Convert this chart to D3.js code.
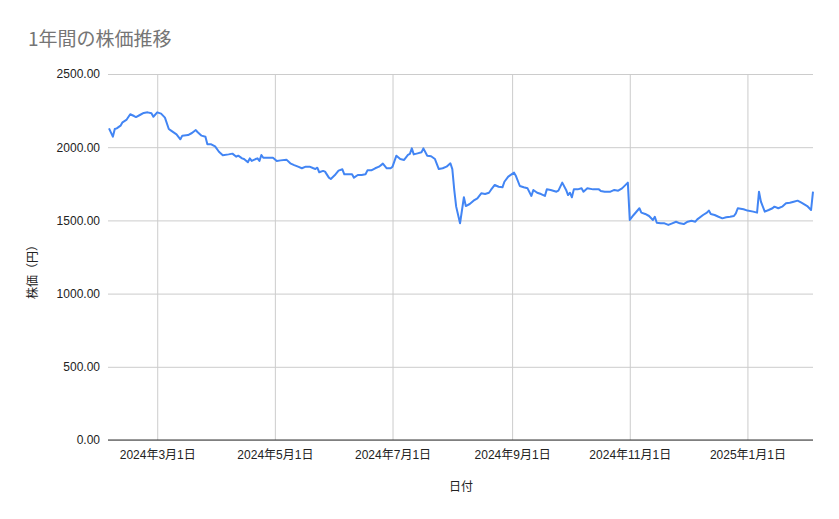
<!DOCTYPE html>
<html>
<head>
<meta charset="utf-8">
<script src="https://cdn.jsdelivr.net/npm/d3@7"></script>
<style>
  body { margin: 0; background: #fff; }
  svg { display: block; }
</style>
</head>
<body>
<div id="chart"></div>
<script>
'use strict';

// 日付と株価（チャートから読み取り）
const dates = [
  "2024-02-05","2024-02-07","2024-02-08","2024-02-09","2024-02-11","2024-02-12","2024-02-14","2024-02-16",
  "2024-02-18","2024-02-19","2024-02-21","2024-02-23","2024-02-25","2024-02-27","2024-02-28","2024-03-01",
  "2024-03-03","2024-03-05","2024-03-07","2024-03-08","2024-03-11","2024-03-13","2024-03-14","2024-03-17",
  "2024-03-19","2024-03-21","2024-03-22","2024-03-24","2024-03-26","2024-03-27","2024-03-29","2024-03-31",
  "2024-04-02","2024-04-04","2024-04-07","2024-04-09","2024-04-11","2024-04-12","2024-04-14","2024-04-15",
  "2024-04-17","2024-04-18","2024-04-19","2024-04-21","2024-04-22","2024-04-23","2024-04-24","2024-04-25",
  "2024-04-28","2024-04-30","2024-05-02","2024-05-04","2024-05-07","2024-05-09","2024-05-11","2024-05-13",
  "2024-05-15","2024-05-17","2024-05-19","2024-05-21","2024-05-22","2024-05-23","2024-05-24","2024-05-26",
  "2024-05-27","2024-05-29","2024-05-30","2024-06-01","2024-06-03","2024-06-05","2024-06-06","2024-06-08",
  "2024-06-10","2024-06-11","2024-06-13","2024-06-15","2024-06-17","2024-06-18","2024-06-20","2024-06-22",
  "2024-06-24","2024-06-26","2024-06-28","2024-06-30","2024-07-01","2024-07-03","2024-07-05","2024-07-07",
  "2024-07-09","2024-07-10","2024-07-11","2024-07-12","2024-07-14","2024-07-16","2024-07-17","2024-07-19",
  "2024-07-21","2024-07-23","2024-07-25","2024-07-27","2024-07-29","2024-07-31","2024-08-01","2024-08-02",
  "2024-08-03","2024-08-05","2024-08-07","2024-08-08","2024-08-10","2024-08-12","2024-08-14","2024-08-16",
  "2024-08-18","2024-08-20","2024-08-21","2024-08-23","2024-08-25","2024-08-27","2024-08-28","2024-08-30",
  "2024-09-02","2024-09-03","2024-09-05","2024-09-07","2024-09-09","2024-09-11","2024-09-12","2024-09-14",
  "2024-09-16","2024-09-18","2024-09-19","2024-09-21","2024-09-24","2024-09-25","2024-09-27","2024-09-29",
  "2024-09-30","2024-10-01","2024-10-02","2024-10-03","2024-10-05","2024-10-07","2024-10-08","2024-10-10",
  "2024-10-13","2024-10-16","2024-10-17","2024-10-19","2024-10-22","2024-10-24","2024-10-26","2024-10-28",
  "2024-10-31","2024-11-01","2024-11-03","2024-11-06","2024-11-07","2024-11-09","2024-11-11","2024-11-13",
  "2024-11-14","2024-11-15","2024-11-17","2024-11-19","2024-11-21","2024-11-23","2024-11-25","2024-11-27",
  "2024-11-29","2024-12-01","2024-12-03","2024-12-05","2024-12-06","2024-12-09","2024-12-11","2024-12-12",
  "2024-12-13","2024-12-15","2024-12-17","2024-12-19","2024-12-21","2024-12-23","2024-12-25","2024-12-26",
  "2024-12-27","2024-12-30","2025-01-01","2025-01-04","2025-01-06","2025-01-07","2025-01-08","2025-01-10",
  "2025-01-12","2025-01-14","2025-01-15","2025-01-17","2025-01-19","2025-01-21","2025-01-23","2025-01-25",
  "2025-01-27","2025-01-29","2025-02-01","2025-02-03","2025-02-04"
];

const prices = [
  2129,2072,2124,2129,2147,2170,2186,2225,
  2213,2206,2220,2234,2238,2232,2208,2238,
  2229,2202,2124,2115,2088,2054,2079,2083,
  2097,2117,2102,2079,2072,2020,2020,2006,
  1969,1945,1951,1956,1935,1942,1924,1919,
  1897,1924,1906,1919,1924,1906,1947,1928,
  1928,1928,1906,1910,1915,1890,1878,1867,
  1856,1867,1867,1856,1851,1860,1829,1838,
  1833,1792,1783,1808,1840,1849,1815,1815,
  1815,1792,1810,1810,1815,1842,1842,1856,
  1867,1888,1856,1856,1867,1942,1919,1913,
  1947,1954,1992,1951,1958,1965,1992,1942,
  1938,1919,1851,1856,1867,1890,1850,1708,
  1594,1480,1658,1598,1612,1635,1651,1685,
  1680,1689,1708,1742,1730,1726,1764,1799,
  1826,1803,1735,1726,1719,1667,1708,1689,
  1680,1667,1712,1708,1696,1703,1758,1708,
  1673,1689,1658,1712,1712,1719,1696,1719,
  1712,1712,1701,1696,1696,1708,1703,1719,
  1758,1503,1537,1583,1553,1544,1530,1503,
  1525,1484,1480,1480,1469,1480,1491,1480,
  1475,1491,1498,1491,1507,1537,1553,1567,
  1544,1537,1525,1514,1521,1525,1530,1548,
  1583,1576,1567,1560,1553,1696,1628,1560,
  1571,1583,1594,1583,1594,1617,1621,1628,
  1635,1621,1598,1571,1696
];

// 軸の目盛り
const yTicks = [0, 500, 1000, 1500, 2000, 2500];
const xTicks = ["2024-03-01","2024-05-01","2024-07-01","2024-09-01","2024-11-01","2025-01-01"];

const titleText = "1年間の株価推移";
const yTitle = "株価（円）";
const xTitle = "日付";

const width = 839, height = 519;
const margin = {top: 74, right: 26, bottom: 79, left: 109};
const innerW = width - margin.left - margin.right;
const innerH = height - margin.top - margin.bottom;

const parseDate = d3.timeParse("%Y-%m-%d");
const data = dates.map(function(d, i) { return {date: parseDate(d), close: prices[i]}; });

const x = d3.scaleTime()
    .domain(d3.extent(data, function(d) { return d.date; }))
    .range([0, innerW]);

const y = d3.scaleLinear()
    .domain([0, 2500])
    .range([innerH, 0]);

const fontLatin = "Arial, 'Liberation Sans', 'Noto Sans CJK JP', sans-serif";

const svg = d3.select("#chart")
    .append("svg")
    .attr("width", width)
    .attr("height", height);

svg.append("rect")
    .attr("width", width)
    .attr("height", height)
    .attr("fill", "#fff");

svg.append("text")
    .attr("x", 28)
    .attr("y", 46)
    .attr("font-family", "'Noto Sans CJK JP', sans-serif")
    .attr("font-size", 19)
    .attr("fill", "#757575")
    .text(titleText);

const g = svg.append("g")
    .attr("transform", "translate(" + margin.left + "," + margin.top + ")");

// 横グリッド + Y ラベル
const yAxis = d3.axisLeft(y)
    .tickValues(yTicks)
    .tickSize(-innerW - 1)
    .tickPadding(8)
    .tickFormat(d3.format(".2f"));

g.append("g")
    .attr("class", "axis axis--y")
    .attr("transform", "translate(-1,0)")
    .call(yAxis)
    .call(function(s) {
        s.select(".domain").remove();
        s.selectAll(".tick line").attr("stroke", "#cccccc");
        s.selectAll(".tick text")
            .attr("fill", "#222")
            .attr("font-family", fontLatin)
            .attr("font-size", 12);
    });

// 縦グリッド + X ラベル
const xAxis = d3.axisBottom(x)
    .tickValues(xTicks.map(parseDate))
    .tickSize(-innerH)
    .tickPadding(10)
    .tickFormat(d3.timeFormat("%Y年%-m月%-d日"));

g.append("g")
    .attr("class", "axis axis--x")
    .attr("transform", "translate(0," + innerH + ")")
    .call(xAxis)
    .call(function(s) {
        s.select(".domain").remove();
        s.selectAll(".tick line").attr("stroke", "#cccccc");
        s.selectAll(".tick text")
            .attr("fill", "#222")
            .attr("font-family", fontLatin)
            .attr("font-size", 12);
    });

// ゼロの基線
g.append("line")
    .attr("x1", -1)
    .attr("x2", innerW)
    .attr("y1", y(0))
    .attr("y2", y(0))
    .attr("stroke", "#333")
    .attr("stroke-width", 1);

const line = d3.line()
    .x(function(d) { return x(d.date); })
    .y(function(d) { return y(d.close); });

g.append("path")
    .datum(data)
    .attr("class", "line")
    .attr("fill", "none")
    .attr("stroke", "#4285f4")
    .attr("stroke-width", 2)
    .attr("stroke-linejoin", "round")
    .attr("d", line);

// 軸タイトル
svg.append("text")
    .attr("transform", "translate(37," + (margin.top + innerH / 2 + 12) + ") rotate(-90)")
    .attr("text-anchor", "middle")
    .attr("font-family", fontLatin)
    .attr("font-size", 12)
    .attr("fill", "#222")
    .text(yTitle);

svg.append("text")
    .attr("x", margin.left + innerW / 2)
    .attr("y", 491)
    .attr("text-anchor", "middle")
    .attr("font-family", fontLatin)
    .attr("font-size", 12)
    .attr("fill", "#222")
    .text(xTitle);
</script>
</body>
</html>
